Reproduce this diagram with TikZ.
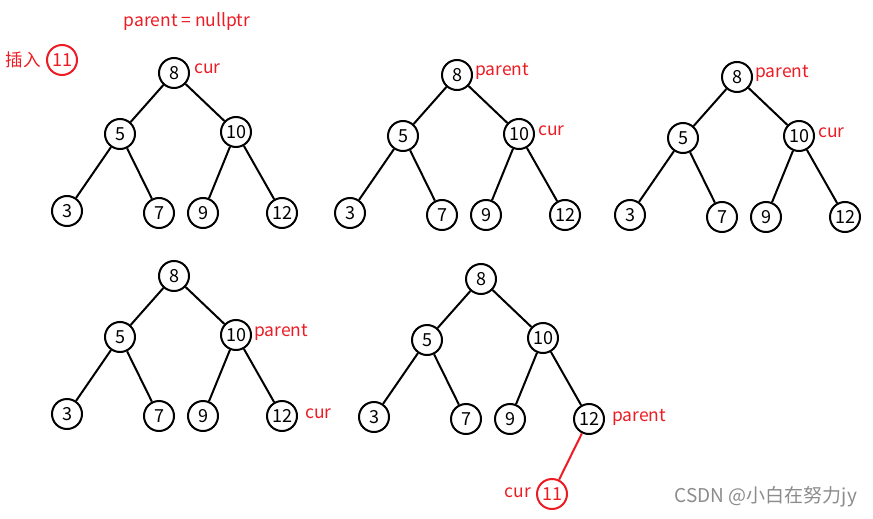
\documentclass[tikz,border=0pt]{standalone}
\usepackage{fontspec}
\setmainfont{Noto Sans CJK SC}
\usetikzlibrary{positioning}
\definecolor{markred}{RGB}{237,28,36}
\tikzset{
  key/.style={circle,draw,line width=2pt,fill=white,inner sep=0pt,minimum size=30pt,font=\fontsize{18}{18}\selectfont},
  edge/.style={line width=2pt},
  tag/.style={text=markred,inner sep=1pt,font=\fontsize{17.5}{17.5}\selectfont}
}
% one search tree, #1 = name prefix, root at (#2,#3)
\newcommand{\bstree}[3]{%
  \begin{scope}[shift={(#2,#3)}]
    \node[key] (#1-8) at (0,0) {8};
    \node[key] (#1-5) at (-54,61) {5};
    \node[key] (#1-10) at (62,59) {10};
    \node[key] (#1-3) at (-107,138) {3};
    \node[key] (#1-7) at (-15,140) {7};
    \node[key] (#1-9) at (29,140) {9};
    \node[key] (#1-12) at (108,140) {12};
    \draw[edge] (#1-8)--(#1-5) (#1-8)--(#1-10) (#1-5)--(#1-3) (#1-5)--(#1-7)
      (#1-10)--(#1-9) (#1-10)--(#1-12);
  \end{scope}}
\begin{document}
\begin{tikzpicture}[x=1pt,y=-1pt]
\useasboundingbox (0,0) rectangle (873,519);
\bstree{a}{174}{73}
\bstree{b}{457}{75}
\bstree{c}{737}{77}
\bstree{d}{174}{276}
\bstree{e}{481}{279}
% the new key
\node[tag] (top) at (187,22) {parent = nullptr};
\node[key,draw=markred,text=markred] (new) at (62,60) {11};
\node[tag,left=4pt of new] (ins) {插入};
% pointers
\node[tag,right=3pt of a-8,yshift=4pt] (acur) {cur};
\node[tag,right=1pt of b-8,yshift=4pt] (bpar) {parent};
\node[tag,right=2pt of b-10,yshift=3pt] (bcur) {cur};
\node[tag,right=1pt of c-8,yshift=4pt] (cpar) {parent};
\node[tag,right=2pt of c-10,yshift=3pt] (ccur) {cur};
\node[tag,right=1pt of d-10,yshift=3pt] (dpar) {parent};
\node[tag,right=6pt of d-12,yshift=2pt] (dcur) {cur};
\node[key,draw=markred,text=markred] (e-11) at (552,494) {11};
\draw[edge,markred] (e-12)--(e-11);
\node[tag,right=6pt of e-12,yshift=2pt] (epar) {parent};
\node[tag,left=4pt of e-11,yshift=1pt] (ecur) {cur};
\node[text=black!45,inner sep=0pt,font=\fontsize{19}{19}\selectfont] (mark) at (766,497) {CSDN @小白在努力jy};
\end{tikzpicture}
\end{document}
